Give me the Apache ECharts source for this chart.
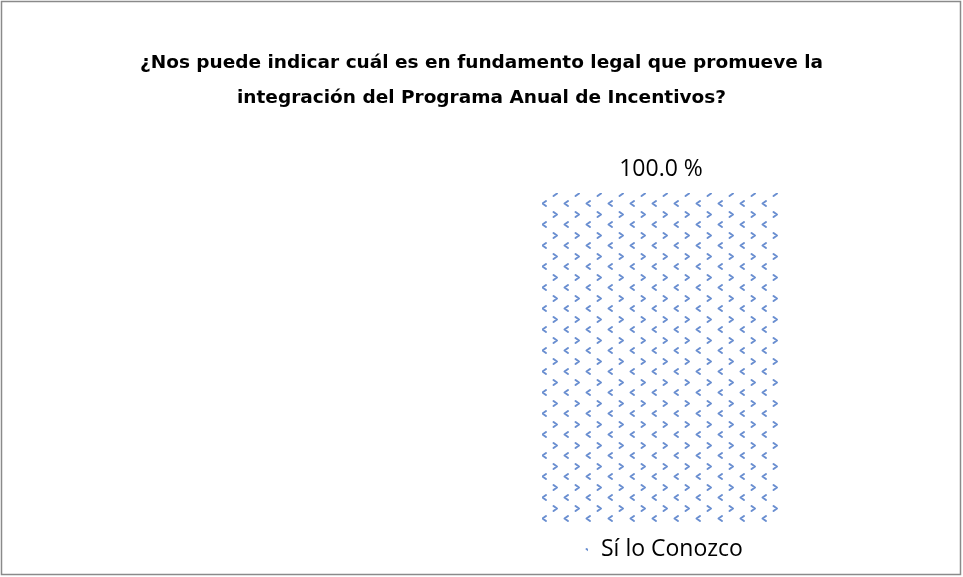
<!DOCTYPE html>
<html>
<head>
<meta charset="utf-8">
<script src="https://cdn.jsdelivr.net/npm/echarts@6/dist/echarts.min.js"></script>
<style>
html,body{margin:0;padding:0;background:#fff;}
#chart{width:963px;height:577px;}
</style>
</head>
<body>
<div id="chart"></div>
<script>
const titleText = '¿Nos puede indicar cuál es en fundamento legal que promueve la\nintegración del Programa Anual de Incentivos?';
const categories = ['Sí lo Conozco'];
const seriesName = 'Sí lo Conozco';
const values = [100.0];

function makePattern() {
  const c = document.createElement('canvas');
  c.width = 22; c.height = 21;
  const g = c.getContext('2d');
  g.strokeStyle = 'rgba(68,114,196,0.8)';
  g.lineWidth = 2;
  g.lineCap = 'round';
  g.lineJoin = 'round';
  // ">" chevron
  g.beginPath(); g.moveTo(3.5, 2); g.lineTo(7, 4.5); g.lineTo(3.5, 7); g.stroke();
  // "<" chevron
  g.beginPath(); g.moveTo(18, 12); g.lineTo(14.5, 14.5); g.lineTo(18, 17); g.stroke();
  return c;
}
const pattern = { image: makePattern(), repeat: 'repeat' };

const chart = echarts.init(document.getElementById('chart'));
chart.setOption({
  animation: false,
  title: {
    text: titleText,
    left: 'center',
    top: 41,
    textStyle: { fontFamily: 'DejaVu Sans', fontWeight: 'bold', fontSize: 18.5, lineHeight: 35, color: '#000' }
  },
  legend: {
    top: 533,
    left: 578,
    itemWidth: 5,
    itemHeight: 5,
    textStyle: { fontFamily: 'Open Sans', fontSize: 23, color: '#000', padding: [0, 0, 0, 8] },
    data: [{ name: seriesName, icon: 'rect' }]
  },
  grid: { left: 542, right: 183, top: 193, bottom: 54 },
  xAxis: { type: 'category', data: categories, show: false },
  yAxis: { type: 'value', min: 0, max: 100, show: false },
  series: [{
    name: seriesName,
    type: 'bar',
    data: values,
    barWidth: '100%',
    itemStyle: { color: pattern },
    label: {
      show: true, position: 'top', distance: 12,
      formatter: p => p.value.toFixed(1) + ' %',
      fontFamily: 'Open Sans', fontSize: 23, color: '#000'
    }
  }],
  graphic: [{
    type: 'rect', silent: true,
    shape: { x: 1.5, y: 1.5, width: 959, height: 573 },
    style: { fill: null, stroke: '#8a8a8a', lineWidth: 1.5 }
  }]
});
</script>
</body>
</html>
